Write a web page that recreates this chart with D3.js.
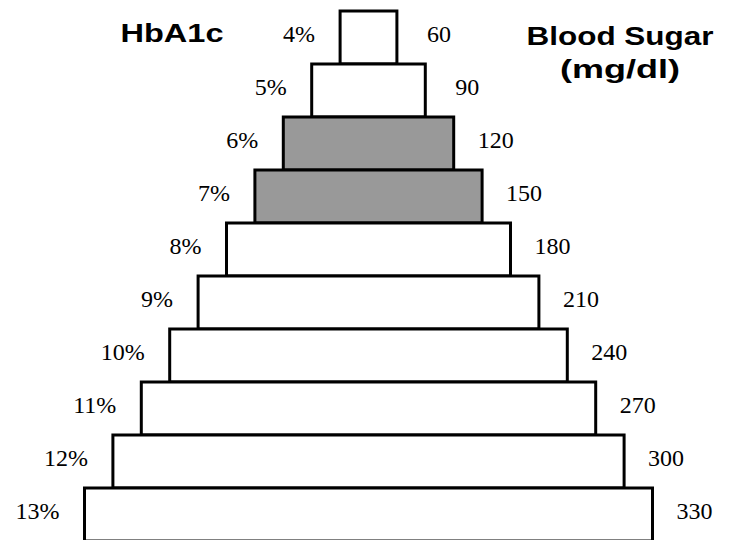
<!DOCTYPE html>
<html>
<head>
<meta charset="utf-8">
<script src="https://cdn.jsdelivr.net/npm/d3@7"></script>
<style>
  html, body { margin: 0; padding: 0; background: #fff; }
  svg { display: block; }
  .lbl { font-family: "Liberation Serif", "DejaVu Serif", "Times New Roman", serif; font-size: 24px; }
  .ttl { font-family: "Liberation Sans", Arial, sans-serif; font-weight: bold; font-size: 26px; }
</style>
</head>
<body>
<script>
// ---- data ----
const hba1c = ["4%", "5%", "6%", "7%", "8%", "9%", "10%", "11%", "12%", "13%"];
const bloodSugar = [60, 90, 120, 150, 180, 210, 240, 270, 300, 330];
const highlighted = ["6%", "7%"];
const leftTitle = ["HbA1c"];
const rightTitle = ["Blood Sugar", "(mg/dl)"];

const W = 731, H = 540;
const cx = 368.5;

const svg = d3.select("body").append("svg")
  .attr("width", W).attr("height", H);

const y = d3.scaleBand().domain(hba1c).range([11, 541]).padding(0);
const half = d3.scaleLinear().domain([30, 330]).range([0, 284]);

const rows = hba1c.map((h, i) => ({ h, s: bloodSugar[i] }));

svg.selectAll("rect.step").data(rows).join("rect")
  .attr("class", "step")
  .attr("x", d => cx - half(d.s))
  .attr("y", d => y(d.h))
  .attr("width", d => 2 * half(d.s))
  .attr("height", y.bandwidth())
  .attr("fill", d => highlighted.includes(d.h) ? "#999999" : "#ffffff")
  .attr("stroke", "#000")
  .attr("stroke-width", 3);

svg.selectAll("text.left").data(rows).join("text")
  .attr("class", "lbl left")
  .attr("x", d => cx - half(d.s) - 25)
  .attr("y", d => y(d.h) + y.bandwidth() / 2 - 4)
  .attr("dy", "0.35em")
  .attr("text-anchor", "end")
  .attr("fill", "#000")
  .text(d => d.h);

svg.selectAll("text.right").data(rows).join("text")
  .attr("class", "lbl right")
  .attr("x", d => cx + half(d.s) + 42)
  .attr("y", d => y(d.h) + y.bandwidth() / 2 - 4)
  .attr("dy", "0.35em")
  .attr("text-anchor", "middle")
  .attr("fill", "#000")
  .text(d => d.s);

svg.append("text")
  .attr("class", "ttl")
  .attr("x", 172).attr("y", 42)
  .attr("text-anchor", "middle")
  .attr("textLength", 103).attr("lengthAdjust", "spacingAndGlyphs")
  .text(leftTitle[0]);

svg.selectAll("text.rt").data(rightTitle).join("text")
  .attr("class", "ttl rt")
  .attr("x", 620)
  .attr("y", (d, i) => 45 + i * 33)
  .attr("text-anchor", "middle")
  .attr("textLength", (d, i) => i === 0 ? 187 : 120)
  .attr("lengthAdjust", "spacingAndGlyphs")
  .text(d => d);
</script>
</body>
</html>
